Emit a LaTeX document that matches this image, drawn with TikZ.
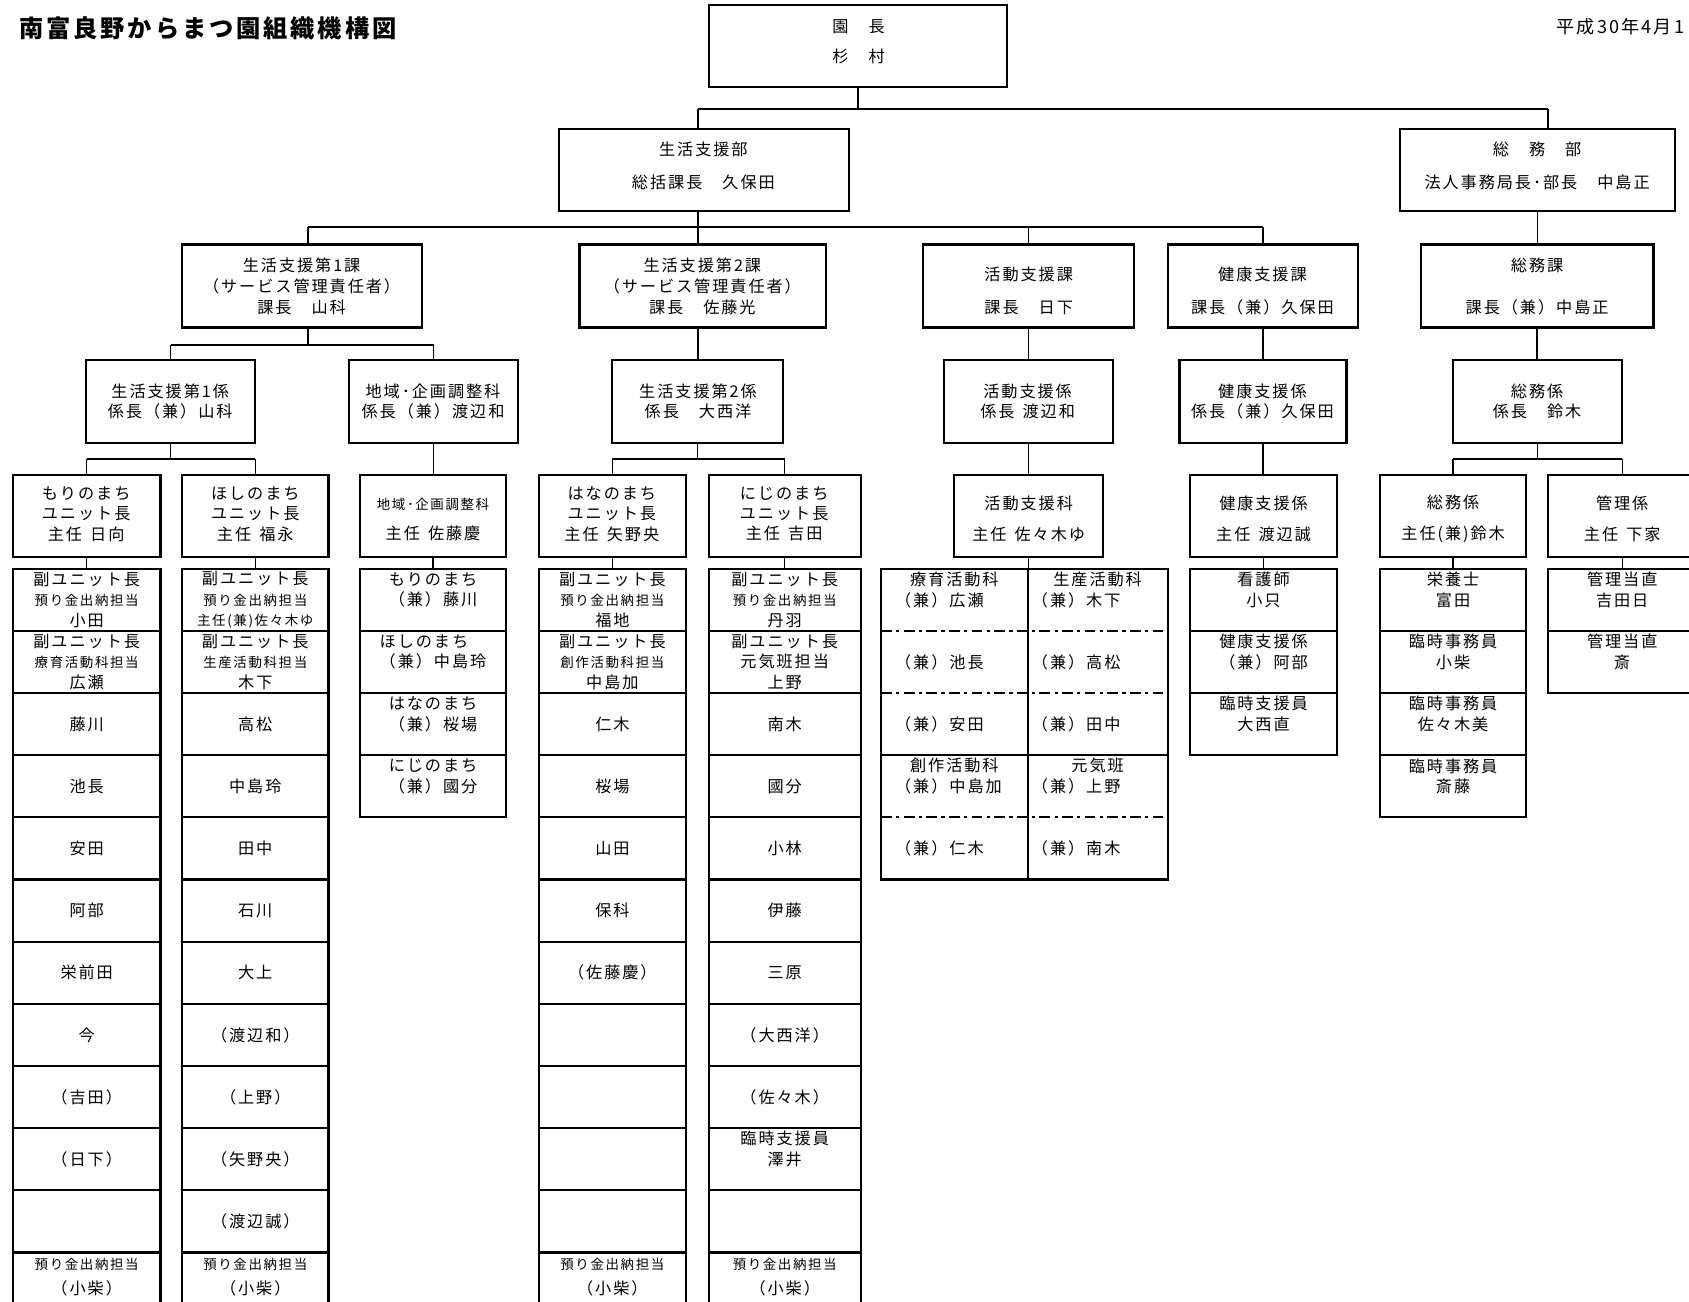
\documentclass[tikz,border=0pt]{standalone}
\usepackage{fontspec}
\setmainfont[LetterSpace=12]{Noto Sans CJK JP}
\usetikzlibrary{calc}
\newcommand\fsz[2]{\fontsize{#1}{#2}\selectfont}
\newcommand\smf{\fontsize{12.5}{19}\selectfont}
\newcommand\hsp{\hspace{.5em}}
\newcounter{tn}
\newcommand\tx[3][]{\stepcounter{tn}\node[txt,#1] (t\arabic{tn}) at #2 {#3};}
\newcommand\bx[5]{\node[box,minimum width={(#4)-(#2)},minimum height={(#5)-(#3)}] (#1) at ({((#2)+(#4))/2},{((#3)+(#5))/2}) {};}
\begin{document}
\begin{tikzpicture}[x=1pt,y=-1pt,
  box/.style={draw,line width=2pt,inner sep=0pt,outer sep=0pt},
  cell/.style={draw,line width=2pt,inner sep=0pt,outer sep=0pt},
  txt/.style={inner sep=0pt,outer sep=0pt,align=center,font=\fsz{15}{19}},
  conn/.style={line width=1.2pt},
  bar/.style={line width=2pt},
  dd/.style={line width=2pt,dash pattern=on 10pt off 4pt on 3pt off 4pt}]
\path[use as bounding box,fill=white] (0,0) rectangle (1568,1208);

% title and date
\tx[anchor=west,font=\fsz{22.5}{26}\bfseries]{(18,26)}{南富良野からまつ園組織機構図}
\tx[anchor=west,font=\fsz{16.8}{19}]{(1445,25)}{平成30年4月1}

% level 1-2
\bx{en}{658}{5}{935}{81}
\tx[font=\fsz{15}{28}]{(797,39)}{園　長\\杉　村}
\bx{sei}{519}{120}{788}{196}
\tx[font=\fsz{15}{30}]{(653,154)}{生活支援部\\総括課長　久保田}
\bx{som}{1300}{120}{1555}{196}
\tx[font=\fsz{15}{30}]{(1427,154)}{総　務　部\\法人事務局長･部長　中島正}

% level 3
\bx{ka}{169}{227}{392}{304}
\tx[font=\fsz{15}{19.5}]{(280,266)}{生活支援第1課\\（サービス管理責任者）\\課長　山科}
\bx{kb}{538}{227}{767}{304}
\tx[font=\fsz{15}{19.5}]{(652,266)}{生活支援第2課\\（サービス管理責任者）\\課長　佐藤光}
\bx{kc}{857}{227}{1053}{304}
\tx[font=\fsz{15}{30}]{(955,270)}{活動支援課\\課長　日下}
\bx{kd}{1084}{227}{1261}{304}
\tx[font=\fsz{15}{30}]{(1172,270)}{健康支援課\\課長（兼）久保田}
\bx{ke}{1319}{227}{1535}{304}
\tx[font=\fsz{15}{39}]{(1427,265.5)}{総務課\\課長（兼）中島正}

% level 4
\bx{ga}{80}{334}{237}{411}
\tx[font=\fsz{15}{18.5}]{(158,373)}{生活支援第1係\\係長（兼）山科}
\bx{gb}{324}{334}{481}{411}
\tx[font=\fsz{15}{18.5}]{(402,373)}{地域･企画調整科\\係長（兼）渡辺和}
\bx{gc}{568}{334}{727}{411}
\tx[font=\fsz{15}{18.5}]{(648,373)}{生活支援第2係\\係長　大西洋}
\bx{gd}{876}{334}{1033}{411}
\tx[font=\fsz{15}{18.5}]{(954,373)}{活動支援係\\係長\hsp 渡辺和}
\bx{ge}{1095}{334}{1250}{411}
\tx[font=\fsz{15}{18.5}]{(1172,373)}{健康支援係\\係長（兼）久保田}
\bx{gf}{1349}{334}{1506}{411}
\tx[font=\fsz{15}{18.5}]{(1427,373)}{総務係\\係長　鈴木}

% level 5
\bx{ua}{12}{441}{149}{517}
\tx{(80,477)}{もりのまち\\ユニット長\\主任\hsp 日向}
\bx{ub}{169}{441}{305}{517}
\tx{(237,477)}{ほしのまち\\ユニット長\\主任\hsp 福永}
\bx{uc}{334}{441}{470}{517}
\tx[font=\fsz{15}{28}]{(402,482)}{{\smf 地域･企画調整科}\\主任\hsp 佐藤慶}
\bx{ud}{500}{441}{637}{517}
\tx{(568,477)}{はなのまち\\ユニット長\\主任\hsp 矢野央}
\bx{ue}{658}{441}{799}{517}
\tx{(728,477)}{にじのまち\\ユニット長\\主任\hsp 吉田}
\bx{uf}{886}{441}{1024}{517}
\tx[font=\fsz{15}{29}]{(955,481.5)}{活動支援科\\主任\hsp 佐々木ゆ}
\bx{ug}{1105}{441}{1241}{517}
\tx[font=\fsz{15}{29}]{(1173,481.5)}{健康支援係\\主任\hsp 渡辺誠}
\bx{uh}{1281}{441}{1417}{517}
\tx[font=\fsz{15}{29}]{(1349,481.5)}{総務係\\主任(兼)鈴木}
\bx{ui}{1437}{441}{1575}{517}
\tx[font=\fsz{15}{29}]{(1506,481.5)}{管理係\\主任\hsp 下家}

% connectors
\coordinate (y1) at (0,101);
\coordinate (y2) at (0,211);
\coordinate (y3) at (0,320);
\coordinate (y4) at (0,426);
\coordinate (pSei) at ([xshift=-5.5pt]sei.north);
\coordinate (qSei) at ([xshift=-5.5pt]sei.south);
\coordinate (pSom) at ([xshift=9.5pt]som.north);
\coordinate (pKa) at ([xshift=5.5pt]ka.north);
\coordinate (qKa) at ([xshift=5.5pt]ka.south);
\coordinate (pKb) at ([xshift=-4.5pt]kb.north);
\coordinate (qKb) at ([xshift=-4.5pt]kb.south);
\draw[conn] (en.south) -- (en.south |- y1);
\draw[bar] (pSei |- y1) -- (pSom |- y1);
\draw[conn] (pSei |- y1) -- (pSei);
\draw[conn] (pSom |- y1) -- (pSom);
\draw[conn] (som.south) -- (som.south |- ke.north);
\draw[conn] (qSei) -- (qSei |- y2);
\draw[bar] (pKa |- y2) -- (kd.north |- y2);
\draw[conn] (pKa |- y2) -- (pKa);
\draw[conn] (pKb |- y2) -- (pKb);
\foreach \n in {kc,kd} \draw[conn] (\n.north |- y2) -- (\n.north);
\draw[conn] (qKa) -- (qKa |- y3);
\draw[bar] (ga.north |- y3) -- (gb.north |- y3);
\foreach \n in {ga,gb} \draw[conn] (\n.north |- y3) -- (\n.north);
\draw[conn] (qKb) -- (qKb |- gc.north);
\draw[conn] (kc.south) -- (kc.south |- gd.north);
\draw[conn] (kd.south) -- (kd.south |- ge.north);
\draw[conn] (ke.south) -- (ke.south |- gf.north);
\foreach \p/\a/\b in {ga/ua/ub,gc/ud/ue,gf/uh/ui}{
  \draw[conn] (\p.south) -- (\p.south |- y4);
  \draw[bar] (\a.north |- y4) -- (\b.north |- y4);
  \draw[conn] (\a.north |- y4) -- (\a.north);
  \draw[conn] (\b.north |- y4) -- (\b.north);
}
\draw[conn] (gb.south) -- (gb.south |- uc.north);
\draw[conn] (gd.south) -- (gd.south |- uf.north);
\draw[conn] (ge.south) -- (ge.south |- ug.north);

% member cells
\foreach \k in {1,...,12}{
  \node[cell,minimum width=137,minimum height=57.7] (a\k) at (80.5,{528+57.7*(\k-0.5)}) {};
  \node[cell,minimum width=136,minimum height=57.7] (b\k) at (237,{528+57.7*(\k-0.5)}) {};
  \node[cell,minimum width=137,minimum height=57.7] (d\k) at (568.5,{528+57.7*(\k-0.5)}) {};
  \node[cell,minimum width=141,minimum height=57.7] (e\k) at (728.5,{528+57.7*(\k-0.5)}) {};
}
\foreach \k in {1,...,4}{
  \node[cell,minimum width=136,minimum height=57.7] (c\k) at (402,{528+57.7*(\k-0.5)}) {};
  \node[cell,minimum width=136,minimum height=57.7] (s\k) at (1349,{528+57.7*(\k-0.5)}) {};
}
\foreach \k in {1,2,3}
  \node[cell,minimum width=136,minimum height=57.7] (h\k) at (1173,{528+57.7*(\k-0.5)}) {};
\foreach \k in {1,2}
  \node[cell,minimum width=138,minimum height=57.7] (m\k) at (1506,{528+57.7*(\k-0.5)}) {};
\node[cell,minimum width=266,minimum height=288.5] (kg) at (951,672.25) {};
\coordinate (kx) at (954,0);
\draw[line width=2pt] (kx |- kg.north) -- (kx |- kg.south);
\draw[dd] (kg.west |- a2.north) -- (kg.east |- a2.north);
\draw[dd] (kg.west |- a3.north) -- (kg.east |- a3.north);
\draw[line width=2pt] (kg.west |- a4.north) -- (kg.east |- a4.north);
\draw[dd] (kg.west |- a5.north) -- (kg.east |- a5.north);

\draw[conn] (ua.south) -- (ua.south |- a1.north);
\draw[conn] (ub.south) -- (ub.south |- b1.north);
\draw[conn] (uc.south) -- (uc.south |- c1.north);
\draw[conn] (ud.south) -- (ud.south |- d1.north);
\draw[conn] (ue.south) -- (ue.south |- e1.north);
\draw[conn] (uf.south) -- (uf.south |- kg.north);
\draw[conn] (ug.south) -- (ug.south |- h1.north);
\draw[conn] (uh.south) -- (uh.south |- s1.north);
\draw[conn] (ui.south) -- (ui.south |- m1.north);

% column a
\tx{(a1)}{副ユニット長\\{\smf 預り金出納担当}\\小田}
\tx{(a2)}{副ユニット長\\{\smf 療育活動科担当}\\広瀬}
\tx{(a3)}{藤川}
\tx{(a4)}{池長}
\tx{(a5)}{安田}
\tx{(a6)}{阿部}
\tx{(a7)}{栄前田}
\tx{(a8)}{今}
\tx{(a9)}{（吉田）}
\tx{(a10)}{（日下）}
\tx[font=\fsz{15}{23}]{($(a12)+(0,-6)$)}{{\smf 預り金出納担当}\\（小柴）}

% column b
\tx{(b1)}{副ユニット長\\{\smf 預り金出納担当}\\{\smf 主任(兼)佐々木ゆ}}
\tx{(b2)}{副ユニット長\\{\smf 生産活動科担当}\\木下}
\tx{(b3)}{高松}
\tx{(b4)}{中島玲}
\tx{(b5)}{田中}
\tx{(b6)}{石川}
\tx{(b7)}{大上}
\tx{(b8)}{（渡辺和）}
\tx{(b9)}{（上野）}
\tx{(b10)}{（矢野央）}
\tx{(b11)}{（渡辺誠）}
\tx[font=\fsz{15}{23}]{($(b12)+(0,-6)$)}{{\smf 預り金出納担当}\\（小柴）}

% column c
\tx[align=left]{($(c1)+(0,-9.35)$)}{もりのまち\\（兼）藤川}
\tx[align=left]{($(c2)+(0,-9.35)$)}{ほしのまち\\（兼）中島玲}
\tx[align=left]{($(c3)+(0,-9.35)$)}{はなのまち\\（兼）桜場}
\tx[align=left]{($(c4)+(0,-9.35)$)}{にじのまち\\（兼）國分}

% column d
\tx{(d1)}{副ユニット長\\{\smf 預り金出納担当}\\福地}
\tx{(d2)}{副ユニット長\\{\smf 創作活動科担当}\\中島加}
\tx{(d3)}{仁木}
\tx{(d4)}{桜場}
\tx{(d5)}{山田}
\tx{(d6)}{保科}
\tx{(d7)}{（佐藤慶）}
\tx[font=\fsz{15}{23}]{($(d12)+(0,-6)$)}{{\smf 預り金出納担当}\\（小柴）}

% column e
\tx{(e1)}{副ユニット長\\{\smf 預り金出納担当}\\丹羽}
\tx{(e2)}{副ユニット長\\元気班担当\\上野}
\tx{(e3)}{南木}
\tx{(e4)}{國分}
\tx{(e5)}{小林}
\tx{(e6)}{伊藤}
\tx{(e7)}{三原}
\tx{(e8)}{（大西洋）}
\tx{(e9)}{（佐々木）}
\tx{($(e10)+(0,-9.35)$)}{臨時支援員\\澤井}
\tx[font=\fsz{15}{23}]{($(e12)+(0,-6)$)}{{\smf 預り金出納担当}\\（小柴）}

% activity grid
\tx{(886,538)}{療育活動科}
\tx[anchor=west]{(831,557)}{（兼）広瀬}
\tx{(1019,538)}{生産活動科}
\tx[anchor=west]{(958,557)}{（兼）木下}
\tx[anchor=west]{(831,614.55)}{（兼）池長}
\tx[anchor=west]{(958,614.55)}{（兼）高松}
\tx[anchor=west]{(831,672.25)}{（兼）安田}
\tx[anchor=west]{(958,672.25)}{（兼）田中}
\tx{(886,711)}{創作活動科}
\tx[anchor=west]{(831,730)}{（兼）中島加}
\tx{(1019,711)}{元気班}
\tx[anchor=west]{(958,730)}{（兼）上野}
\tx[anchor=west]{(831,787.65)}{（兼）仁木}
\tx[anchor=west]{(958,787.65)}{（兼）南木}

% column h
\tx{($(h1)+(0,-9.35)$)}{看護師\\小只}
\tx{($(h2)+(0,-9.35)$)}{健康支援係\\（兼）阿部}
\tx{($(h3)+(0,-9.35)$)}{臨時支援員\\大西直}

% column s
\tx{($(s1)+(0,-9.35)$)}{栄養士\\富田}
\tx{($(s2)+(0,-9.35)$)}{臨時事務員\\小柴}
\tx{($(s3)+(0,-9.35)$)}{臨時事務員\\佐々木美}
\tx{($(s4)+(0,-9.35)$)}{臨時事務員\\斎藤}

% column m
\tx{($(m1)+(0,-9.35)$)}{管理当直\\吉田日}
\tx{($(m2)+(0,-9.35)$)}{管理当直\\斎}
\end{tikzpicture}
\end{document}
